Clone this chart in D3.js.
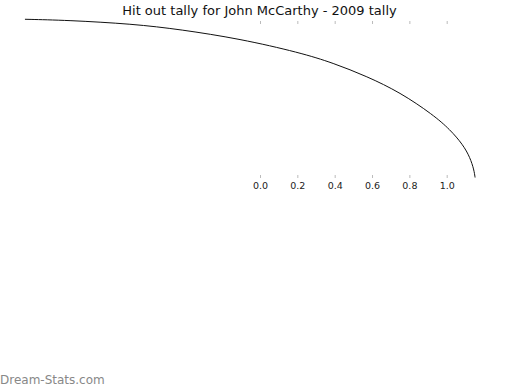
<!DOCTYPE html>
<html><head><meta charset="utf-8">
<script src="https://cdn.jsdelivr.net/npm/d3@7"></script>
<style>
body{margin:0;background:#fff;}
svg{display:block;font-family:"DejaVu Sans",sans-serif;}
</style></head>
<body>
<svg id="c" width="520" height="390"></svg>
<script>
const title = "Hit out tally for John McCarthy - 2009 tally";
const tickValues = [0.0, 0.2, 0.4, 0.6, 0.8, 1.0];
const curveX = [-1.259, -1.034, -0.680, -0.428, -0.107, 0.214, 0.391, 0.573, 0.750, 0.927, 1.018, 1.087, 1.125, 1.146, 1.152];
const curveY = [1.011, 1.005, 0.981, 0.946, 0.886, 0.798, 0.732, 0.646, 0.544, 0.401, 0.306, 0.210, 0.128, 0.050, 0.0];
const watermark = "Dream-Stats.com";

const svg = d3.select("#c");
const x = d3.scaleLinear().domain([0, 1]).range([260, 446.7]);
const y = d3.scaleLinear().domain([0, 1]).range([177.5, 21]);

svg.append("text").attr("x", 259.5).attr("y", 14.5).attr("text-anchor", "middle")
  .attr("font-size", 13).attr("fill", "#111").text(title);

const bottomAxis = svg.append("g").attr("transform", "translate(0,175)")
  .call(d3.axisBottom(x).tickValues(tickValues).tickFormat(d3.format(".1f")).tickSize(3).tickPadding(4));
bottomAxis.select(".domain").remove();
bottomAxis.selectAll(".tick line").attr("stroke", "#bbb");
bottomAxis.selectAll(".tick text").attr("font-size", 9.5).attr("fill", "#222").attr("font-family", "DejaVu Sans");

const topAxis = svg.append("g").attr("transform", "translate(0,24)")
  .call(d3.axisTop(x).tickValues(tickValues).tickFormat("").tickSize(3));
topAxis.select(".domain").remove();
topAxis.selectAll(".tick line").attr("stroke", "#bbb");

const pts = curveX.map((v, i) => [v, curveY[i]]);
svg.append("path").datum(pts)
  .attr("fill", "none").attr("stroke", "#111").attr("stroke-width", 1)
  .attr("d", d3.line().x(d => x(d[0])).y(d => y(d[1])).curve(d3.curveBasis));

svg.append("text").attr("x", 0).attr("y", 384).attr("font-size", 12)
  .attr("fill", "#888").text(watermark);
</script>
</body></html>
